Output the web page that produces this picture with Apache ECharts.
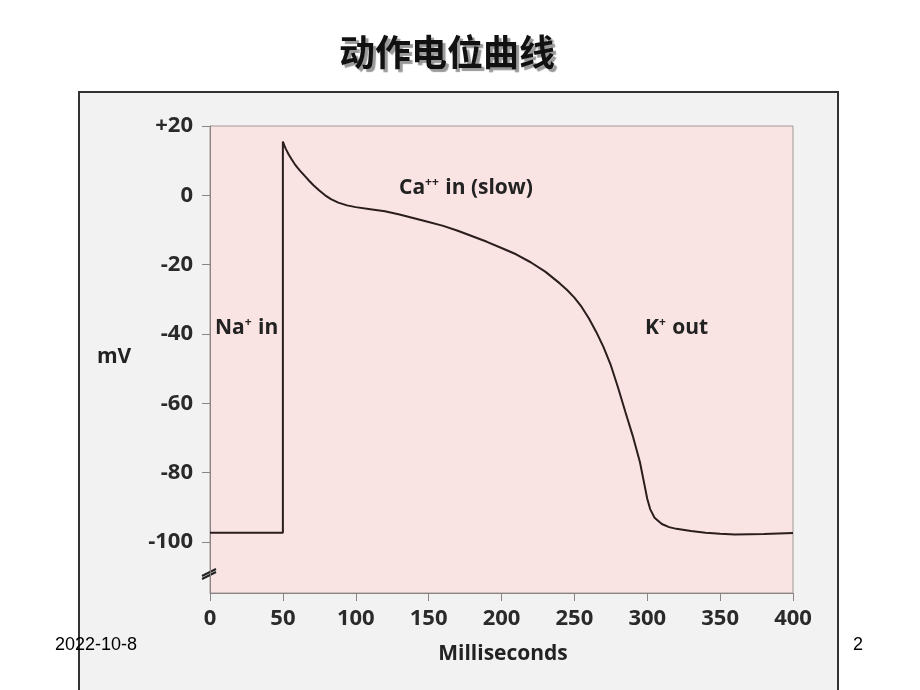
<!DOCTYPE html>
<html><head><meta charset="utf-8">
<script src="https://cdn.jsdelivr.net/npm/echarts@6/dist/echarts.min.js"></script>
<style>html,body{margin:0;padding:0;background:#fff}#c{width:920px;height:690px}</style>
</head><body><div id="c"></div>
<script>
const timeMs = [0, 50, 50, 51, 52, 54, 56, 58, 60, 62, 65, 68, 71, 75, 79, 83, 88, 94, 100, 110, 120, 130, 140, 150, 160, 170, 180, 190, 200, 210, 220, 230, 240, 245, 250, 255, 260, 265, 270, 275, 280, 285, 290, 295, 298, 300, 302, 305, 310, 315, 320, 330, 340, 350, 360, 380, 400];
const voltage = [-97.3, -97.3, 15.5, 14.4, 13.4, 11.8, 10.4, 9.1, 8, 7, 5.6, 4.2, 2.9, 1.4, 0, -1.1, -2.1, -2.9, -3.4, -4, -4.6, -5.5, -6.6, -7.7, -8.8, -10.2, -11.8, -13.4, -15.2, -17, -19.3, -22, -25.4, -27.3, -29.5, -32.2, -35.5, -39.4, -43.8, -49, -55.5, -62.5, -69.3, -77, -83.3, -87.5, -90.5, -93, -94.8, -95.7, -96.2, -96.8, -97.3, -97.6, -97.8, -97.7, -97.4];
const yTicks = [20, 0, -20, -40, -60, -80, -100];
const xTicks = [0, 50, 100, 150, 200, 250, 300, 350, 400];
const titleText = '动作电位曲线';
const xName = 'Milliseconds';
const yName = 'mV';
const footerDate = '2022-10-8';
const pageNo = '2';

const chart = echarts.init(document.getElementById('c'), null, {renderer: 'canvas'});
const font = 'Open Sans';
const supRich = {
  b: {fontFamily: font, fontWeight: 'bold', fontSize: 21, color: '#222'},
  s: {fontFamily: font, fontWeight: 'bold', fontSize: 12, color: '#222', padding: [0, 1, 10, 0]}
};
function txt(x, y, text, extra) {
  return Object.assign({type: 'text', z: 10, style: Object.assign({x: x, y: y, text: text, verticalAlign: 'middle', fontFamily: font, fontWeight: 'bold', fontSize: 20, fill: '#222'}, extra || {})});
}
chart.setOption({
  backgroundColor: '#ffffff',
  animation: false,
  graphic: [
    {type: 'rect', z: -10, shape: {x: 79, y: 92, width: 759, height: 610},
     style: {fill: '#f2f2f2', stroke: '#333', lineWidth: 2}},
    txt(447, 52, titleText, {align: 'center', fontFamily: 'Noto Sans CJK SC', fontSize: 36, fill: '#111', textShadowColor: 'rgba(0,0,0,0.4)', textShadowOffsetX: 3, textShadowOffsetY: 3, textShadowBlur: 1}),
    txt(97, 357, yName, {fontSize: 21}),
    txt(503, 654, xName, {align: 'center', fontSize: 21}),
    txt(55, 645, footerDate, {fontFamily: 'Liberation Sans', fontWeight: 'normal', fontSize: 18, fill: '#000'}),
    txt(858, 645, pageNo, {align: 'center', fontFamily: 'Liberation Sans', fontWeight: 'normal', fontSize: 18, fill: '#000'}),
    txt(215, 328, '{b|Na}{s|+}{b| in}', {rich: supRich}),
    txt(645, 328, '{b|K}{s|+}{b| out}', {rich: supRich}),
    txt(399, 188, '{b|Ca}{s|++}{b| in (slow)}', {rich: supRich}),
    {type: 'group', z: 10, children: [
      {type: 'line', shape: {x1: 202, y1: 576, x2: 216, y2: 569}, style: {stroke: '#222', lineWidth: 2}},
      {type: 'line', shape: {x1: 202, y1: 579, x2: 216, y2: 572}, style: {stroke: '#222', lineWidth: 2}}
    ]}
  ],
  grid: {left: 210, top: 126, right: 127, bottom: 97, show: true, backgroundColor: '#fae3e3', borderColor: '#a09898', borderWidth: 1},
  xAxis: {
    type: 'value', min: 0, max: 400,
    axisLine: {show: true, onZero: false, lineStyle: {color: '#8c8484', width: 1}},
    axisTick: {show: true, length: 8, customValues: xTicks, lineStyle: {color: '#8c8484'}},
    axisLabel: {customValues: xTicks, fontFamily: font, fontWeight: 'bold', fontSize: 22, color: '#2a2a2a', margin: 15},
    splitLine: {show: false}
  },
  yAxis: {
    type: 'value', min: -114.7, max: 20,
    axisLine: {show: true, onZero: false, lineStyle: {color: '#8c8484', width: 1}},
    axisTick: {show: true, length: 8, customValues: yTicks, lineStyle: {color: '#8c8484'}},
    axisLabel: {customValues: yTicks, fontFamily: font, fontWeight: 'bold', fontSize: 22, color: '#2a2a2a', margin: 17,
      formatter: v => v > 0 ? '+' + v : String(v)},
    splitLine: {show: false}
  },
  series: [{
    type: 'line', data: timeMs.map((t, i) => [t, voltage[i]]), showSymbol: false, smooth: false,
    lineStyle: {color: '#2a1d1d', width: 2}
  }]
});
</script></body></html>
